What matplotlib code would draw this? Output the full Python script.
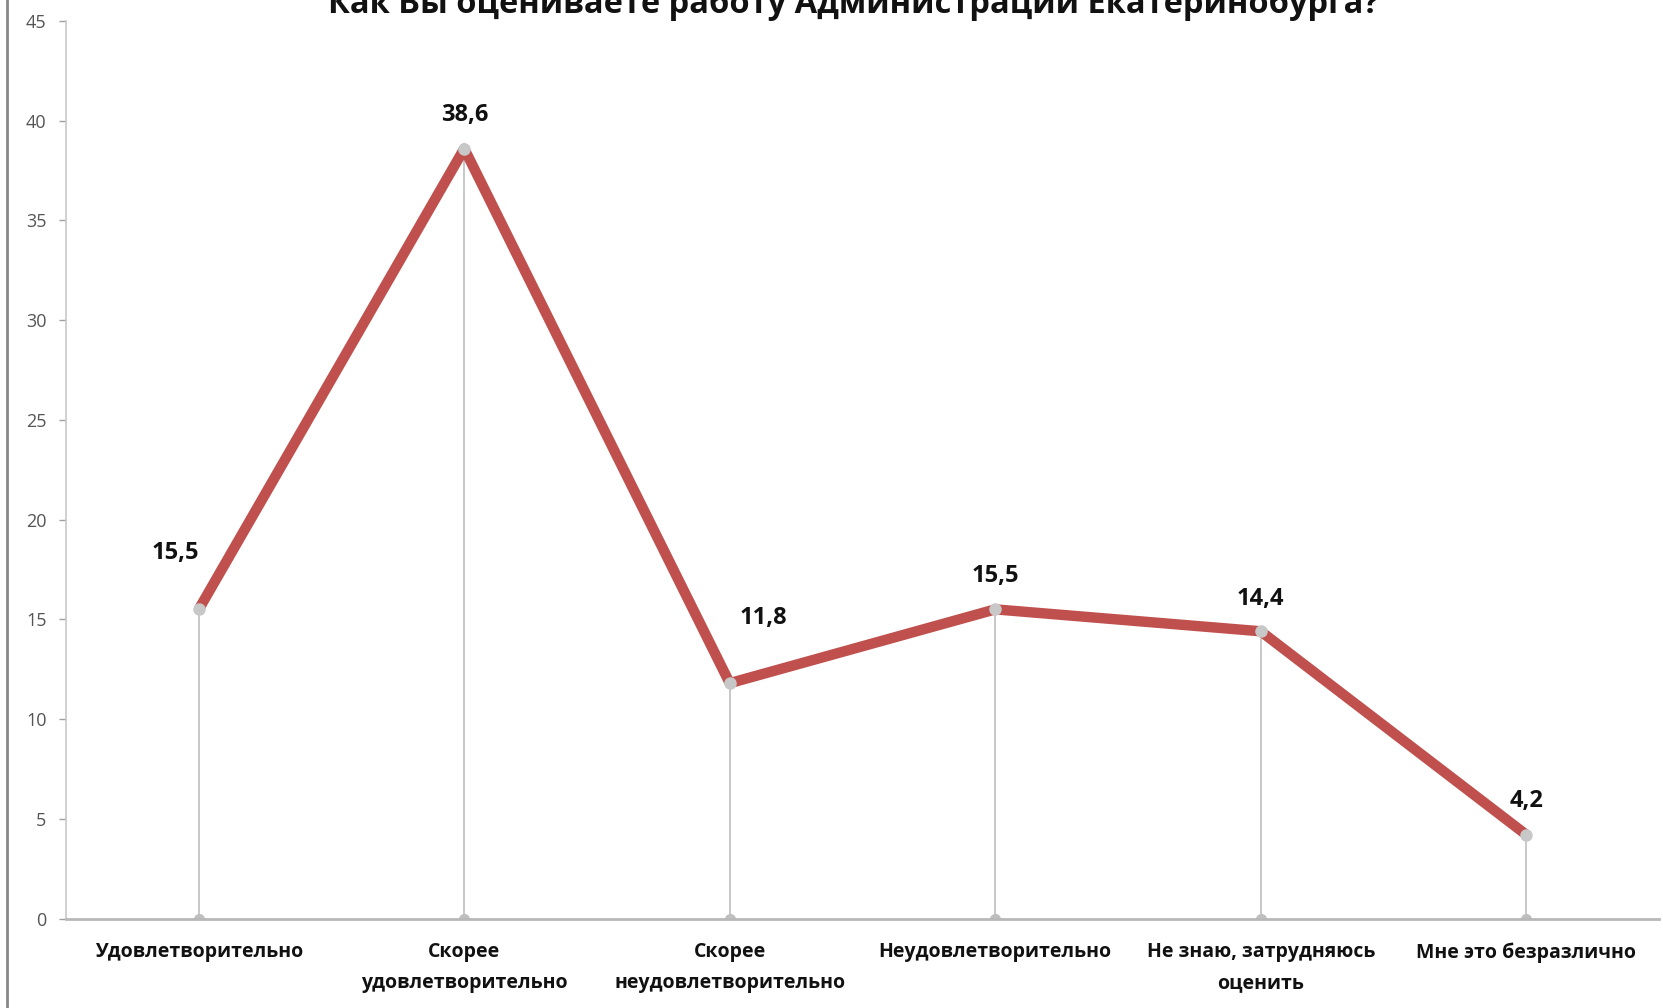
import matplotlib
matplotlib.use("Agg")
import matplotlib.pyplot as plt
from matplotlib.lines import Line2D

categories = ["Удовлетворительно", "Скорее\nудовлетворительно", "Скорее\nнеудовлетворительно",
              "Неудовлетворительно", "Не знаю, затрудняюсь\nоценить", "Мне это безразлично"]
values = [15.5, 38.6, 11.8, 15.5, 14.4, 4.2]
value_labels = ["15,5", "38,6", "11,8", "15,5", "14,4", "4,2"]
yticks = [0, 5, 10, 15, 20, 25, 30, 35, 40, 45]
title = "Как Вы оцениваете работу Администрации Екатеринобурга?"

# label offsets in pixels (style)
offsets = [(-23, 56), (0, 34), (34, 65), (0, 33), (0, 32), (0, 34)]

FONT = ["Open Sans", "DejaVu Sans"]
plt.rcParams['font.family'] = FONT

fig = plt.figure(figsize=(16.63, 10.08), dpi=100)
ax = fig.add_axes([66/1663, 1 - 918.5/1008, (1659-66)/1663, (918.5-21)/1008])

x = list(range(len(values)))
grey = "#BFBFBF"
# drop lines
ax.vlines(x, 0, values, colors=grey, linewidth=1.2, zorder=1)
ax.plot(x, [0]*len(x), 'o', color=grey, markersize=7, zorder=2, clip_on=True)
ax.plot(x, values, color="#C0504D", linewidth=7.5, solid_capstyle='butt', zorder=3)
ax.plot(x, values, 'o', color="#C8C8C8", markersize=8, zorder=4)

for xi, v, lab, (dx, dy) in zip(x, values, value_labels, offsets):
    ax.annotate(lab, (xi, v), xytext=(dx, dy), textcoords='offset pixels',
                ha='center', va='center', fontsize=17, fontweight='bold', color='#111111')

ax.set_xlim(-0.5, len(values) - 0.5)
ax.set_ylim(0, 45)
ax.set_yticks(yticks)
ax.set_yticklabels([str(t) for t in yticks], fontsize=13, color='#555555')
ax.set_xticks(x)
ax.set_xticklabels(categories, fontsize=14, fontweight='bold', color='#111111', linespacing=1.75)
ax.tick_params(axis='x', length=0, pad=17)
ax.tick_params(axis='y', length=5, color='#A0A0A0', width=1, pad=9)
for s in ['top', 'right']:
    ax.spines[s].set_visible(False)
ax.spines['left'].set_color('#C8C8C8')
ax.spines['left'].set_linewidth(1.2)
ax.spines['bottom'].set_color('#B8B8B8')
ax.spines['bottom'].set_linewidth(2)

fig.text(0.513, 0.996, title, ha='center', va='center', fontsize=23.5, fontweight='bold', color='#111111')

# window border on the left
fig.add_artist(Line2D([7/1663, 7/1663], [0, 1], transform=fig.transFigure, color='#888888', linewidth=2))

fig.savefig("out.png", dpi=100, facecolor='white')
